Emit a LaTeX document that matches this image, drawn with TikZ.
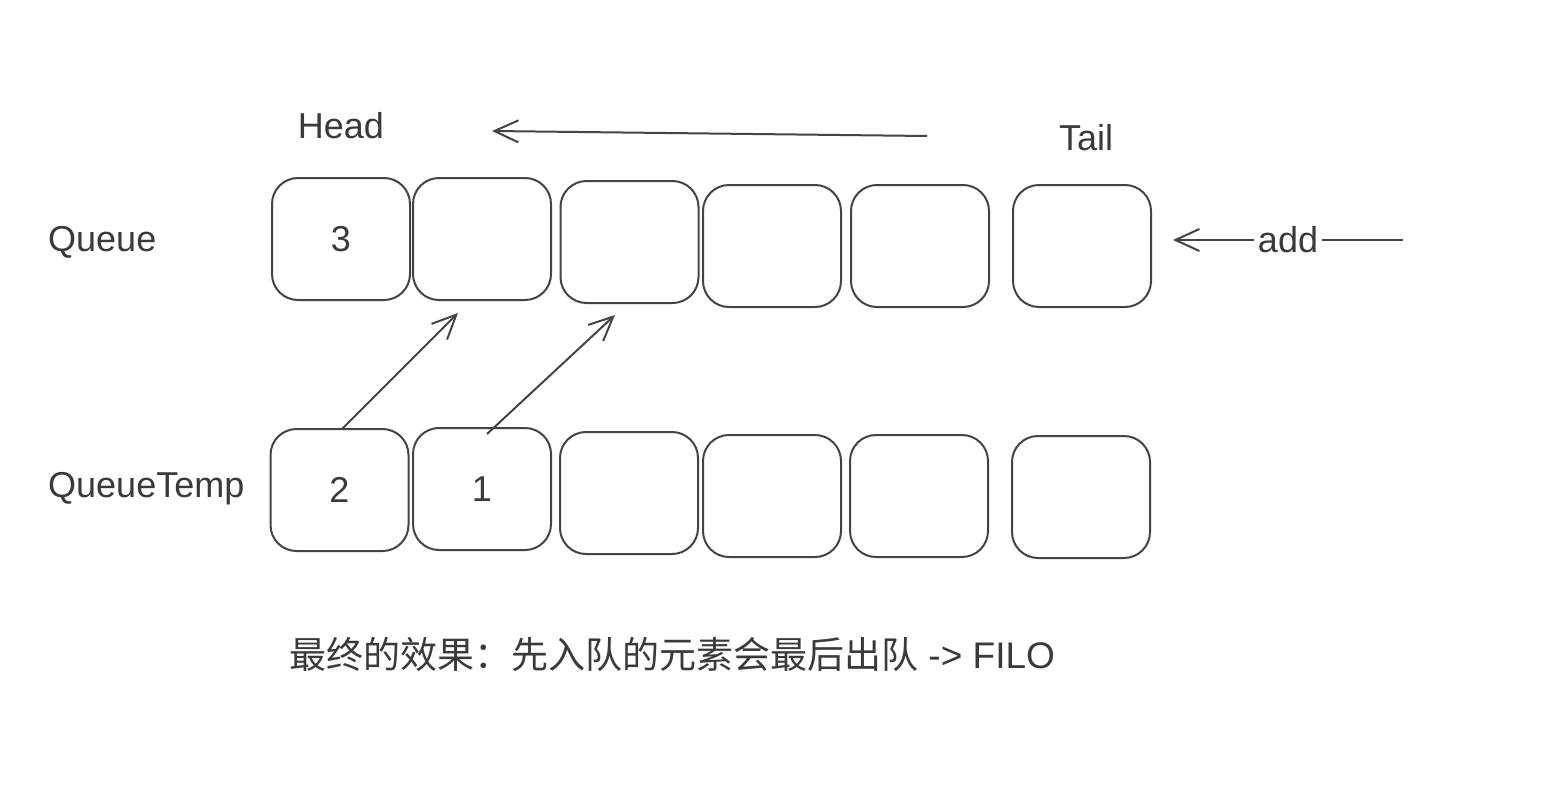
\documentclass[tikz,border=0pt]{standalone}
\usepackage{fontspec}
\setmainfont{Liberation Sans}
\newfontfamily\cjkfont{Noto Sans CJK SC}
\usetikzlibrary{arrows.meta}
\definecolor{ink}{HTML}{444444}
\definecolor{txt}{HTML}{3A3A3A}
\tikzset{
  cell/.style={draw=ink, line width=2pt, rounded corners=26pt, minimum width=138pt, minimum height=122pt, inner sep=0pt, text=txt, font=\fontsize{36}{43}\selectfont},
  lbl/.style={text=txt, font=\fontsize{36}{43}\selectfont, inner sep=0pt},
  conn/.style={draw=ink, line width=2pt, -{Straight Barb[length=24pt,width=22pt,line width=2pt]}},
}
\begin{document}
\begin{tikzpicture}[x=1pt,y=-1pt]
\useasboundingbox (0,0) rectangle (1560,790);
\fill[white] (0,0) rectangle (1560,790);
% Queue row
\node[cell] (q1) at (341,239) {3};
\node[cell] (q2) at (482,239) {};
\node[cell] (q3) at (629.5,242) {};
\node[cell] (q4) at (772,246) {};
\node[cell] (q5) at (920,246) {};
\node[cell] (q6) at (1082,246) {};
% QueueTemp row
\node[cell] (t1) at (339.5,490) {2};
\node[cell] (t2) at (482,489) {1};
\node[cell] (t3) at (629,493) {};
\node[cell] (t4) at (772,496) {};
\node[cell] (t5) at (919,496) {};
\node[cell] (t6) at (1081,497) {};
% labels
\node[lbl, anchor=base] (head) at (341,138) {Head};
\node[lbl, anchor=base] (tail) at (1086,150) {Tail};
\node[lbl, anchor=base west] (queue) at (48,251) {Queue};
\node[lbl, anchor=base west] (queuetemp) at (48,497) {QueueTemp};
\node[lbl, anchor=base west, font=\fontsize{37}{44}\selectfont] (note) at (289,668) {{\cjkfont 最终的效果：先入队的元素会最后出队} -> FILO};
% connectors
\coordinate (dirstart) at (927,136);
\coordinate (dirend) at (492,131);
\draw[conn] (dirstart) -- (dirend);
\coordinate (addstart) at (1403,240);
\coordinate (addend) at (1173,240);
\draw[conn] (addstart) -- node[lbl, fill=white, inner xsep=4pt, inner ysep=2pt] (addlbl) {add} (addend);
\coordinate (a1start) at (342,429);
\coordinate (a1end) at (458,313);
\draw[conn] (a1start) -- (a1end);
\coordinate (a2start) at (487,434);
\coordinate (a2end) at (615,315);
\draw[conn] (a2start) -- (a2end);
\end{tikzpicture}
\end{document}
